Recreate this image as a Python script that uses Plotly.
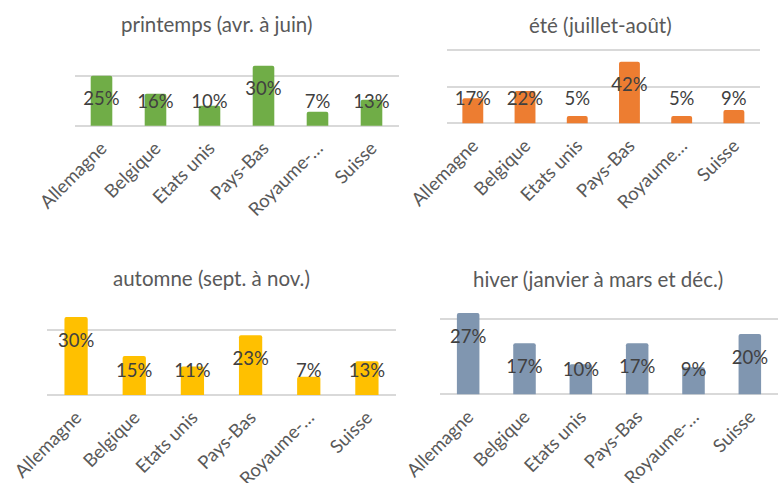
import plotly.graph_objects as go

W, H = 778, 483

# Countries and seasonal shares (%)
categories = ["Allemagne", "Belgique", "Etats unis", "Pays-Bas", "Royaume-Uni", "Suisse"]
tick_labels = ["Allemagne", "Belgique", "Etats unis", "Pays-Bas", "Royaume-…", "Suisse"]
tick_labels_ete = ["Allemagne", "Belgique", "Etats unis", "Pays-Bas", "Royaume…", "Suisse"]

printemps = [25, 16, 10, 30, 7, 13]
ete = [17, 22, 5, 42, 5, 9]
automne = [30, 15, 11, 23, 7, 13]
hiver = [27, 17, 10, 17, 9, 20]

titles = [
    "printemps (avr. à juin)",
    "été (juillet-août)",
    "automne (sept. à nov.)",
    "hiver (janvier à mars et déc.)",
]
colors = ["#70AD47", "#ED7D31", "#FFC000", "#8096B0"]

# Pixel geometry of each panel: left, right, zero line, px per %, top, title centre
panels = [
    dict(vals=printemps, ticks=tick_labels, x0=74.5, x1=398.5, zero=125.7, s=2.0, top=40, tx=217, ty=24),
    dict(vals=ete, ticks=tick_labels_ete, x0=446.7, x1=760, zero=123.3, s=1.467, top=45, tx=600, ty=25),
    dict(vals=automne, ticks=tick_labels, x0=47, x1=396, zero=395, s=2.6, top=300, tx=212, ty=278),
    dict(vals=hiver, ticks=tick_labels, x0=440, x1=778, zero=394.3, s=3.01, top=300, tx=598, ty=279),
]

FONT = "Lato"
fig = go.Figure()
layout = {}
annotations = []

for i, (p, title, color) in enumerate(zip(panels, titles, colors)):
    n = "" if i == 0 else str(i + 1)
    xa, ya = "x" + n, "y" + n
    vals = p["vals"]
    s = p["s"]

    fig.add_trace(go.Bar(
        x=categories, y=vals, width=0.4,
        marker=dict(color=color, line=dict(width=0), cornerradius=2),
        xaxis=xa, yaxis=ya, hoverinfo="skip", showlegend=False,
    ))
    # value labels sit just inside the bar top, never lower than a floor above the base
    label_y = [max(v - 25 / s, 22.5 / s) for v in vals]
    fig.add_trace(go.Scatter(
        x=categories, y=label_y, mode="text",
        text=[f"{v}%" for v in vals], textposition="middle center",
        textfont=dict(family=FONT, size=18.5, color="#404040"),
        xaxis=xa, yaxis=ya, hoverinfo="skip", showlegend=False,
    ))

    bottom = p["zero"] + 3
    layout["xaxis" + n] = dict(
        domain=[p["x0"] / W, min(p["x1"] / W, 1.0)],
        type="category", range=[-0.5, 5.5],
        tickvals=categories, ticktext=p["ticks"], tickangle=-45,
        tickfont=dict(family=FONT, size=18.5, color="#595959"),
        ticklabelstandoff=4, automargin=False,
        showgrid=False, showline=False, ticks="", zeroline=False,
        anchor=ya, fixedrange=True,
    )
    layout["yaxis" + n] = dict(
        domain=[1 - bottom / H, 1 - p["top"] / H],
        range=[-(bottom - p["zero"]) / s, (p["zero"] - p["top"]) / s],
        tickvals=[0, 25, 50], showticklabels=False, ticks="",
        showgrid=True, gridcolor="#D9D9D9", gridwidth=1.5, automargin=False,
        zeroline=False, showline=False, anchor=xa, fixedrange=True,
    )
    annotations.append(dict(
        text=title, x=p["tx"] / W, y=1 - p["ty"] / H,
        xref="paper", yref="paper", xanchor="center", yanchor="middle",
        showarrow=False, font=dict(family=FONT, size=20.5, color="#595959"),
    ))

fig.update_layout(
    width=W, height=H,
    margin=dict(l=0, r=0, t=0, b=0, autoexpand=False),
    paper_bgcolor="white", plot_bgcolor="white",
    annotations=annotations,
    bargap=0.6,
    **layout,
)

fig.write_html("out.html", config={"displayModeBar": False})
